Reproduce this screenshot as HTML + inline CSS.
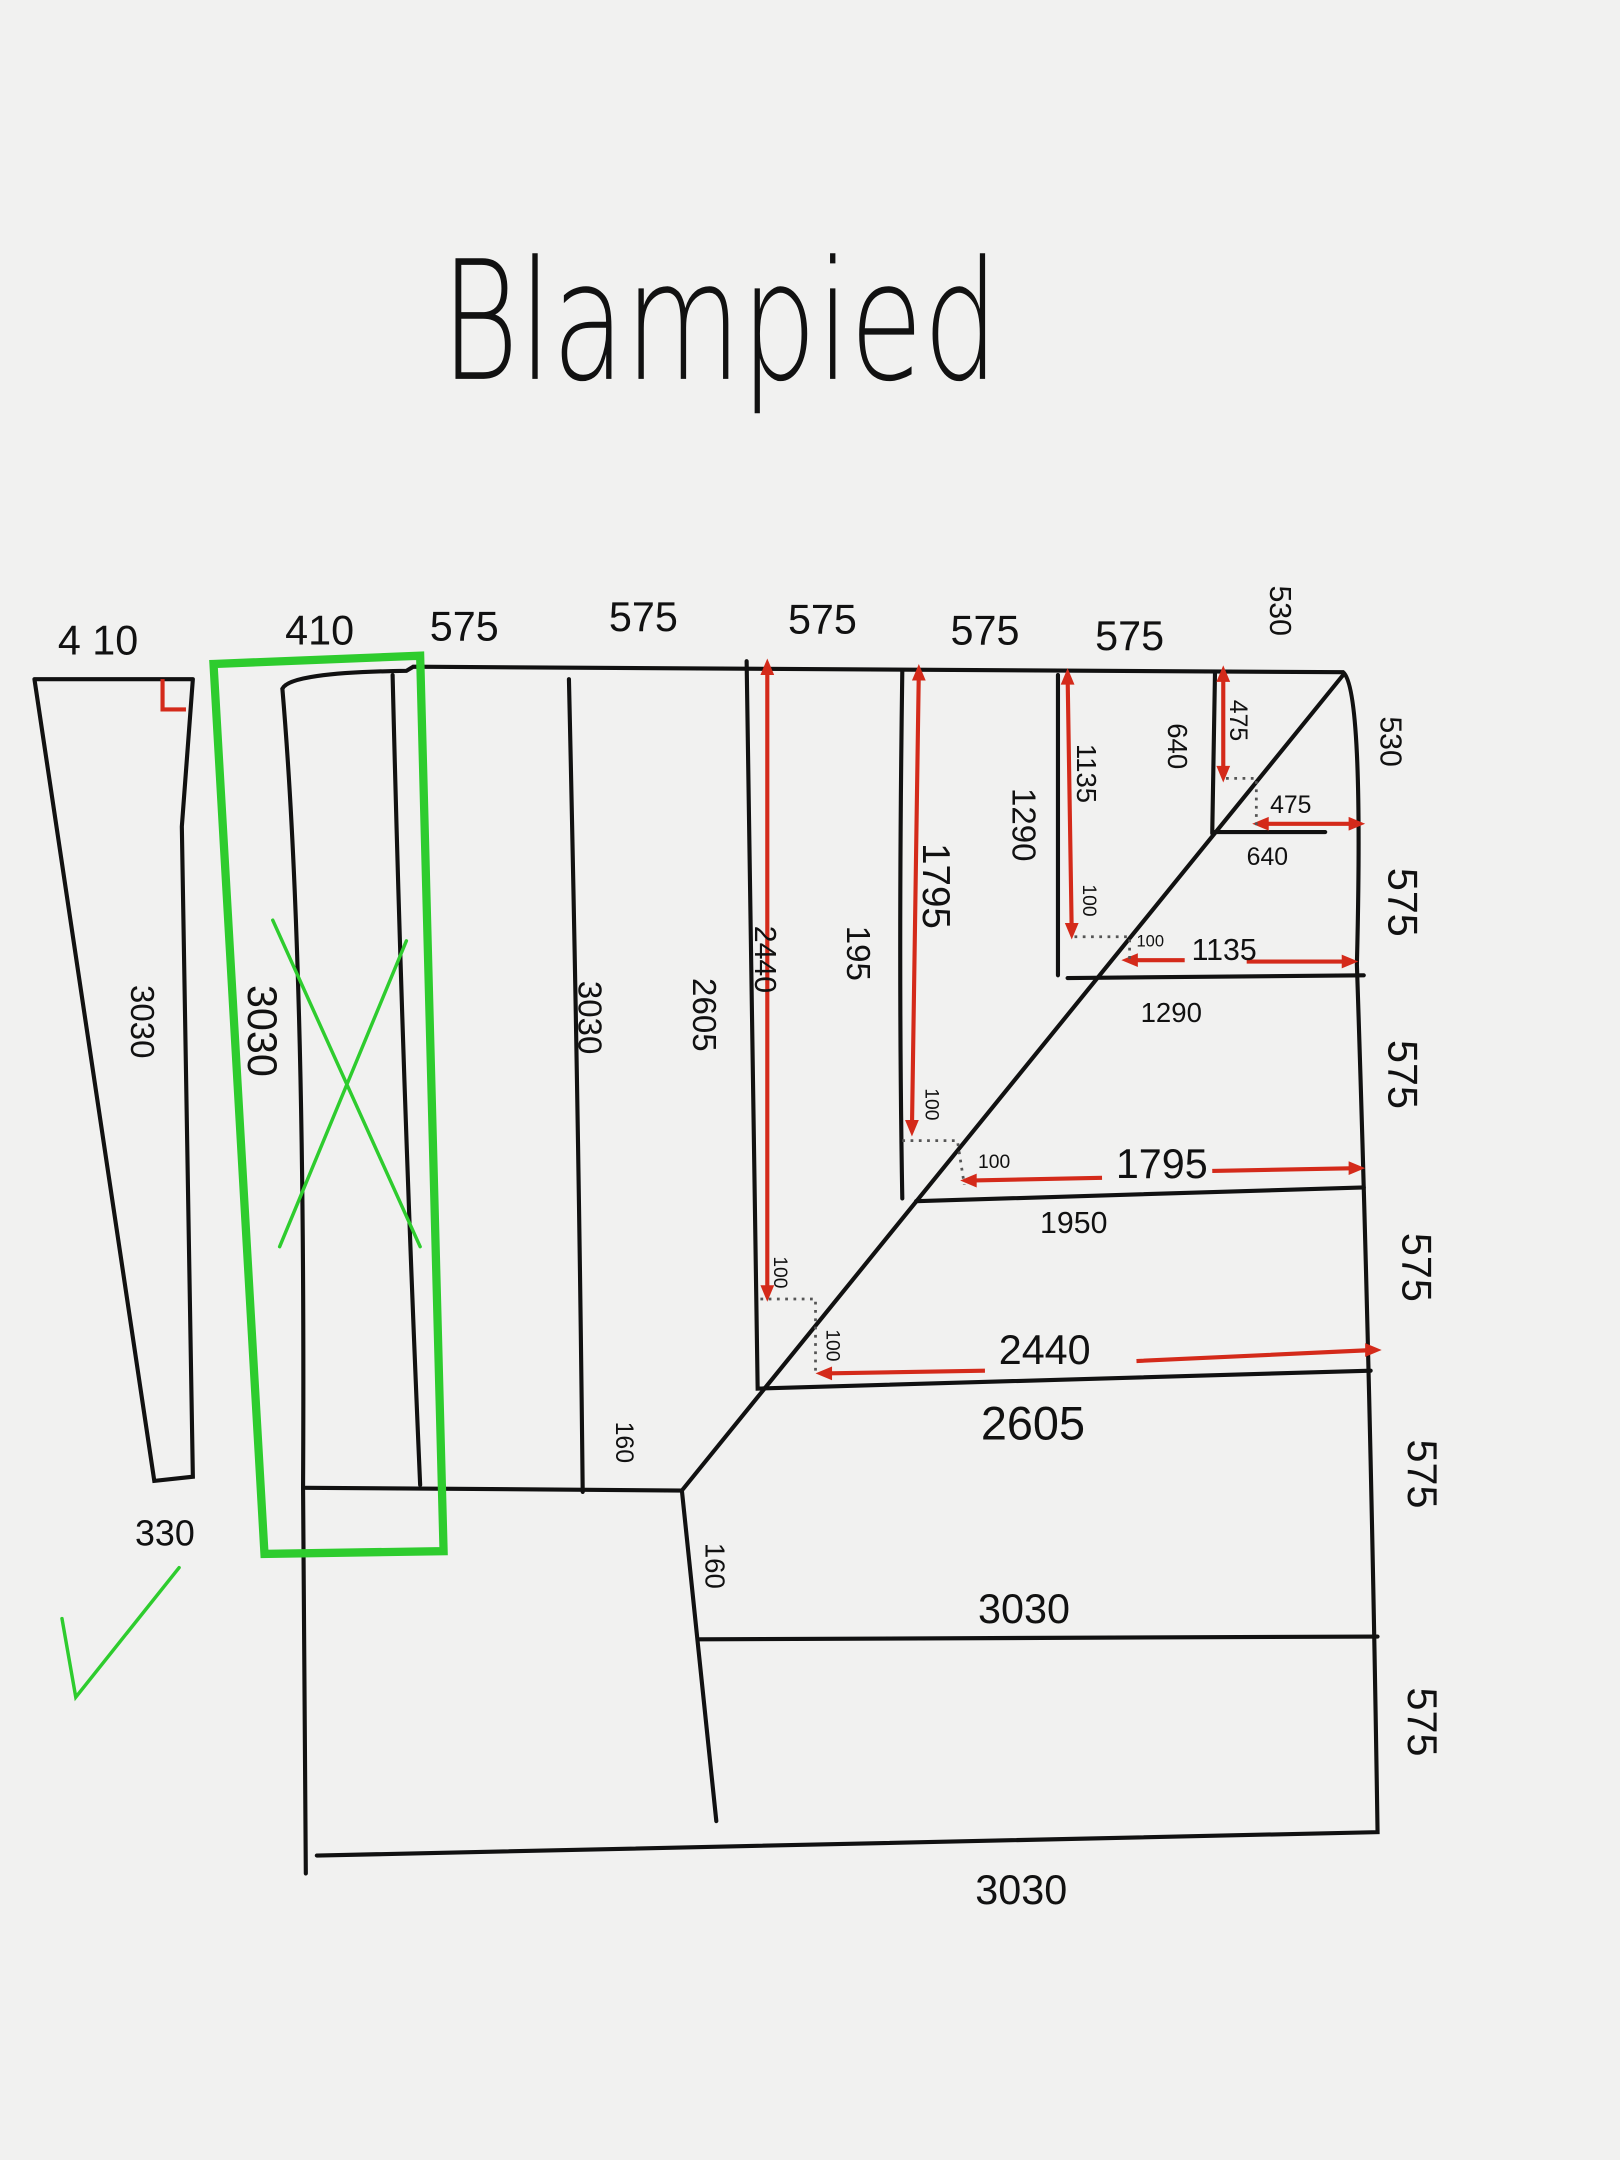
<!DOCTYPE html>
<html><head><meta charset="utf-8"><style>
html,body{margin:0;padding:0;background:#f1f1f0;}
svg{display:block;}
text{font-family:"Liberation Sans",sans-serif;fill:#111;}
</style></head><body>
<svg width="1620" height="2160" viewBox="0 0 1176 1568" xmlns="http://www.w3.org/2000/svg">
<rect width="1176" height="1568" fill="#f1f1f0"/>
<text x="320" y="275" font-size="120" style="font-family:'DejaVu Sans ExtraLight','DejaVu Sans','Liberation Sans',sans-serif;font-weight:200" textLength="405" lengthAdjust="spacingAndGlyphs">Blampied</text>
<g fill="none" stroke="#111" stroke-width="3" stroke-linecap="round">
<path d="M25 493 L140 493 M25 493 L112 1075 L140 1072 L132 600 L140 493"/>
<path d="M205 500 Q210 488 295 487 L300 484 L975 488 Q990 500 985 700 Q995 1000 1000 1330 L230 1347"/>
<path d="M205 500 Q222 700 220 1080 L222 1360"/>
<path d="M285 490 Q292 780 305 1078"/>
<path d="M413 493 Q420 800 423 1083"/>
<path d="M222 1080 L495 1082 L520 1322"/>
<path d="M495 1082 L975 490"/>
<path d="M542 480 Q548 800 550 1008 L995 995"/>
<path d="M655 487 Q652 700 655 870 M665 872 L990 862"/>
<path d="M768 490 L768 708 M775 710 L990 708"/>
<path d="M882 488 L880 605 M880 604 L962 604"/>
<path d="M508 1190 L1000 1188"/>
</g>
<g stroke="#d42a1a" stroke-width="3" fill="none">
<path d="M118 493 L118 515 L135 515"/>
<path d="M557 483 L557 940 M667 487 L662 820 M775 490 L778 677 M888 488 L888 563"/>
<path d="M598 997 L715 995 M825 988 L997 980 M703 857 L800 855 M880 850 L985 848 M820 697 L860 697 M905 698 L980 698 M915 598 L985 598"/>
</g>
<g fill="#d42a1a">
<path d="M557 478 l-5 12 h10z M557 945 l-5 -12 h10z M667 482 l-5 12 h10z M662 825 l-5 -12 h10z M775 485 l-5 12 h10z M778 682 l-5 -12 h10z M888 483 l-5 12 h10z M888 568 l-5 -12 h10z"/>
<path d="M592 997 l12 -5 v10z M1003 980 l-12 -5 v10z M697 857 l12 -5 v10z M991 848 l-12 -5 v10z M814 697 l12 -5 v10z M986 698 l-12 -5 v10z M909 598 l12 -5 v10z M991 598 l-12 -5 v10z"/>
</g>
<g stroke="#555" stroke-width="2" stroke-dasharray="2 4" fill="none">
<path d="M552 943 L592 943 L592 995 M655 828 L695 828 L700 860 M780 680 L820 680 L820 700 M890 565 L912 565 L912 600"/>
</g>
<g stroke="#2ecc2e" fill="none" stroke-linecap="round">
<path d="M155 482 L305 476 L322 1126 L192 1128 Z" stroke-width="6"/>
<path d="M198 668 L305 905 M295 683 L203 905" stroke-width="2.5"/>
<path d="M45 1175 L55 1232 L130 1138" stroke-width="2.5"/>
</g>
<g font-size="30">
<text x="42" y="475">4 10</text><text x="207" y="468">410</text><text x="312" y="465">575</text>
<text x="442" y="458">575</text><text x="572" y="460">575</text><text x="690" y="468">575</text><text x="795" y="472">575</text>
<text x="98" y="1122" font-size="26">330</text>
<text x="710" y="1178">3030</text><text x="708" y="1382">3030</text>
<text x="712" y="1045" font-size="34">2605</text><text x="725" y="990" font-size="30">2440</text>
<text x="810" y="855">1795</text><text x="755" y="895" font-size="22">1950</text>
<text x="865" y="697" font-size="22">1135</text><text x="828" y="742" font-size="20">1290</text>
<text x="922" y="590" font-size="18">475</text><text x="905" y="628" font-size="18">640</text>
<text x="710" y="848" font-size="14">100</text><text x="825" y="687" font-size="12">100</text>
</g>
<g font-size="30">
<text transform="translate(1008,630) rotate(90)">575</text>
<text transform="translate(1008,755) rotate(90)">575</text>
<text transform="translate(1018,895) rotate(90)">575</text>
<text transform="translate(1022,1045) rotate(90)">575</text>
<text transform="translate(1022,1225) rotate(90)">575</text>
<text transform="translate(1002,520) rotate(90)" font-size="22">530</text>
<text transform="translate(922,425) rotate(90)" font-size="22">530</text>
<text transform="translate(95,715) rotate(90)" font-size="24">3030</text>
<text transform="translate(180,715) rotate(90)">3030</text>
<text transform="translate(420,712) rotate(90)" font-size="24">3030</text>
<text transform="translate(503,710) rotate(90)" font-size="24">2605</text>
<text transform="translate(548,672) rotate(90)" font-size="22">2440</text>
<text transform="translate(615,672) rotate(90)" font-size="24">195</text>
<text transform="translate(670,612) rotate(90)" font-size="28">1795</text>
<text transform="translate(735,572) rotate(90)" font-size="24">1290</text>
<text transform="translate(782,540) rotate(90)" font-size="20">1135</text>
<text transform="translate(848,525) rotate(90)" font-size="20">640</text>
<text transform="translate(893,508) rotate(90)" font-size="18">475</text>
<text transform="translate(447,1032) rotate(90)" font-size="18">160</text>
<text transform="translate(512,1120) rotate(90)" font-size="20">160</text>
<text transform="translate(562,912) rotate(90)" font-size="14">100</text>
<text transform="translate(600,965) rotate(90)" font-size="14">100</text>
<text transform="translate(672,790) rotate(90)" font-size="14">100</text>
<text transform="translate(786,642) rotate(90)" font-size="14">100</text>
</g>
</svg>
</body></html>
